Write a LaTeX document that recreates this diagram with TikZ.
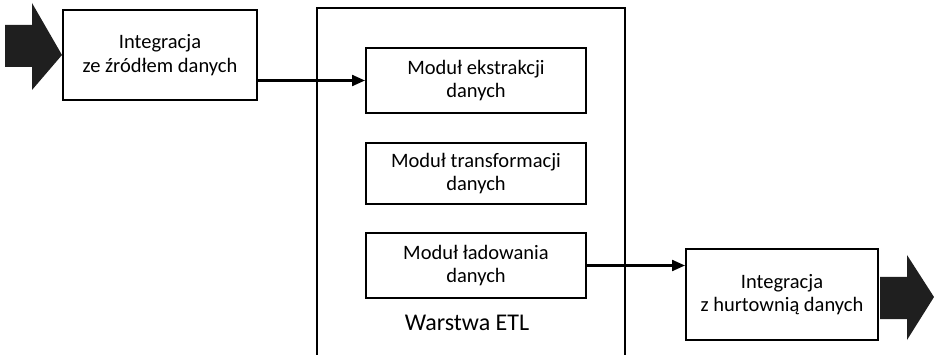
\documentclass[tikz,border=0pt]{standalone}
\usepackage{fontspec}
\setmainfont{Carlito}
\usetikzlibrary{arrows.meta}
\begin{document}
\begin{tikzpicture}[x=1pt,y=-1pt,
  box/.style={draw, line width=2pt, align=center, inner sep=0pt,
    font=\fontsize{20.5}{23.5}\selectfont},
  modbox/.style={box, minimum width=220pt},
  conn/.style={line width=2.2pt, -{Triangle[length=13pt,width=11pt]}},
  bigarrow/.style={fill=black!88, draw=none},
  frame/.style={line width=2pt}]
\useasboundingbox (0,0) rectangle (934,355);

% source / target integration boxes
\node[box, minimum width=194pt, minimum height=90pt] (src) at (160,55)
  {Integracja\\ze źródłem danych};
\node[box, minimum width=192pt, minimum height=91pt] (dst) at (782,294.5)
  {Integracja\\z hurtownią danych};

% ETL layer frame (open at the bottom)
\coordinate (etlbl) at (317,355);
\coordinate (etltl) at (317,8);
\coordinate (etltr) at (625,8);
\coordinate (etlbr) at (625,355);
\draw[frame] (etlbl) -- (etltl) -- (etltr) -- (etlbr);
\node[font=\fontsize{24}{28}\selectfont] (etl) at (467,323) {Warstwa ETL};

% modules
\node[modbox, minimum height=65pt] (m1) at (476,80.5) {Moduł ekstrakcji\\danych};
\node[modbox, minimum height=61pt] (m2) at (476,173.5) {Moduł transformacji\\danych};
\node[modbox, minimum height=65pt] (m3) at (476,265.5) {Moduł ładowania\\danych};

% connectors
\draw[conn] (m1.west -| src.east) -- (m1.west);
\draw[conn] (m3.east) -- (m3.east -| dst.west);

% block arrows in and out
\fill[bigarrow] (5,25) -- (32,25) -- (32,3) -- (src.west) -- (32,90) -- (32,67) -- (5,67) -- cycle;
\fill[bigarrow] (880,277) -- (907,277) -- (907,255) -- (934,297) -- (907,340) -- (907,319) -- (880,319) -- cycle;
\end{tikzpicture}
\end{document}
